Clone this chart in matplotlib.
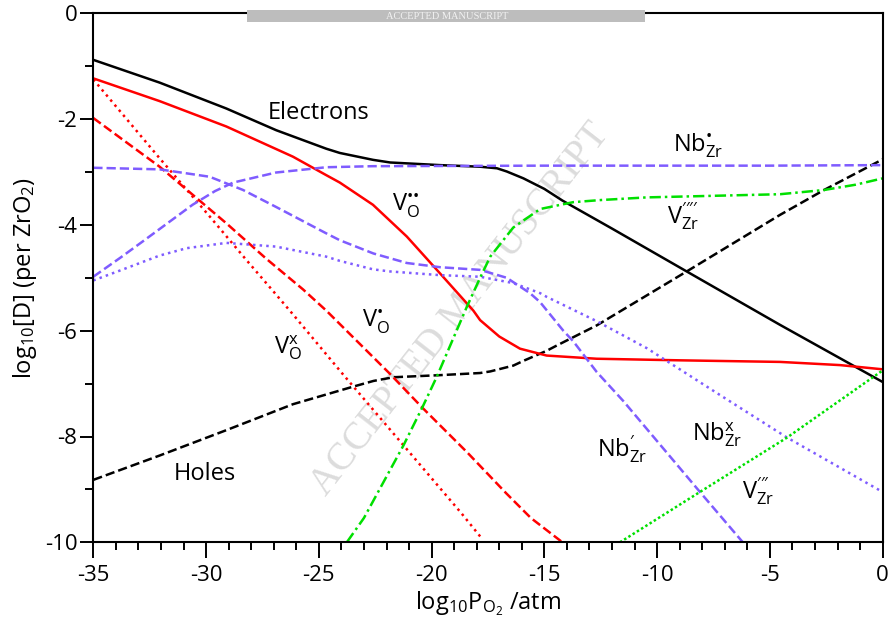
import matplotlib
matplotlib.use("Agg")
import matplotlib.pyplot as plt
from matplotlib.patches import Rectangle
from matplotlib.ticker import MultipleLocator

plt.rcParams['font.family'] = ['Open Sans', 'DejaVu Sans']
plt.rcParams['mathtext.fontset'] = 'custom'
plt.rcParams['mathtext.rm'] = 'Open Sans'
plt.rcParams['mathtext.it'] = 'Open Sans:italic'
plt.rcParams['mathtext.bf'] = 'Open Sans:bold'
plt.rcParams['axes.unicode_minus'] = False

# ---- data (log10 pO2, log10 concentration) ----
electrons_x = [-35, -32.06, -29.1, -26.89, -24.67, -24.07, -22.6, -21.84, -19.62, -17.85, -17.1, -16.67,
               -15.93, -15.0, -14.2, -12.0, -8.69, -4.55, 0]
electrons_y = [-0.88, -1.31, -1.80, -2.21, -2.56, -2.64, -2.77, -2.82, -2.87, -2.90, -2.93, -2.99,
               -3.12, -3.32, -3.54, -4.07, -4.88, -5.89, -6.97]

holes_x = [-35, -32.06, -29.1, -26.15, -23.5, -22.58, -21.7, -19.62, -17.85, -17.4, -16.38, -15.93,
           -14.9, -14.45, -12.68, -8.69, -4.55, -2.6, 0]
holes_y = [-8.82, -8.36, -7.88, -7.39, -7.06, -6.95, -6.88, -6.84, -6.80, -6.77, -6.66, -6.57,
           -6.38, -6.28, -5.90, -4.88, -3.81, -3.34, -2.76]

vo2_x = [-35, -32.06, -29.1, -26.15, -24.67, -24.07, -22.6, -21.1, -19.62, -18.15, -17.85, -17.0,
         -16.08, -14.9, -12.68, -9.0, -4.55, -1.9, 0]
vo2_y = [-1.23, -1.66, -2.14, -2.71, -3.06, -3.20, -3.62, -4.22, -4.92, -5.62, -5.80, -6.11,
         -6.34, -6.47, -6.53, -6.56, -6.59, -6.65, -6.73]

vo1_x = [-35, -32.06, -29.1, -27.33, -25.7, -24.67, -21.86, -20.4, -18.4, -16.7, -15.6, -14.2]
vo1_y = [-1.98, -2.90, -3.97, -4.64, -5.22, -5.62, -6.81, -7.46, -8.31, -9.07, -9.54, -10.0]

vo0_x = [-35, -32.06, -29.84, -28.2, -27.03, -26.15, -23.9, -21.7, -18.7, -17.75]
vo0_y = [-1.25, -2.74, -3.84, -4.67, -5.25, -5.69, -6.84, -7.94, -9.44, -9.94]

nb_plus_x = [-35, -33.8, -32.8, -30.6, -29.6, -28.8, -26.9, -24.67, -22.6, -15, -5, 0]
nb_plus_y = [-4.98, -4.62, -4.31, -3.62, -3.36, -3.20, -3.01, -2.91, -2.89, -2.88, -2.88, -2.87]

nb_minus_x = [-35, -32.06, -29.84, -28.36, -26.9, -24.67, -24.07, -22.58, -21.1, -19.62, -17.85,
              -16.67, -15.64, -15.19, -14.16, -13.72, -12.68, -11.5, -8.1, -6.2]
nb_minus_y = [-2.92, -2.95, -3.09, -3.34, -3.66, -4.16, -4.29, -4.54, -4.72, -4.80, -4.85,
              -5.00, -5.29, -5.46, -6.00, -6.20, -6.78, -7.33, -9.05, -10.0]

nb_neutral_x = [-35, -33.8, -32.06, -30.86, -29.1, -26.9, -24.67, -24.07, -22.6, -21.84, -19.62, -17.85,
                -16.38, -15.19, -14.9, -12.68, -10.46, -7.2, -4.24, 0]
nb_neutral_y = [-5.05, -4.86, -4.58, -4.44, -4.34, -4.41, -4.60, -4.68, -4.84, -4.88, -4.95, -4.98,
                -5.10, -5.29, -5.36, -5.82, -6.33, -7.22, -8.02, -9.05]

vzr4_x = [-23.76, -23.0, -21.25, -20.4, -19.77, -18.44, -17.85, -17.4, -16.38, -15.19, -13.72, -12.5,
          -10.46, -7.5, -4.55, -2.6, -1.2, 0]
vzr4_y = [-10.0, -9.54, -8.17, -7.44, -6.87, -5.55, -5.0, -4.6, -4.05, -3.70, -3.57, -3.53,
          -3.48, -3.45, -3.42, -3.34, -3.24, -3.12]

vzr3_x = [-11.65, -7.96, -4.24, 0]
vzr3_y = [-10.0, -9.01, -8.02, -6.75]

x_ticks = [-35, -30, -25, -20, -15, -10, -5, 0]
y_ticks = [-10, -8, -6, -4, -2, 0]

RED = '#ff0000'
PURPLE = '#7f5cff'
GREEN = '#00e000'
LW = 1.8

fig = plt.figure(figsize=(8.92, 6.27), dpi=100)
ax = fig.add_axes([93.3/892, 1-542.3/627, (882.7-93.3)/892, (542.3-13.3)/627])

ax.plot(electrons_x, electrons_y, color='black', lw=LW, ls='-')
ax.plot(holes_x, holes_y, color='black', lw=LW, ls=(0, (3.7, 1.6)))
ax.plot(vo2_x, vo2_y, color=RED, lw=LW, ls='-')
ax.plot(vo1_x, vo1_y, color=RED, lw=LW, ls=(0, (3.7, 1.6)))
ax.plot(vo0_x, vo0_y, color=RED, lw=LW, ls=(0, (1, 1.65)))
ax.plot(nb_plus_x, nb_plus_y, color=PURPLE, lw=LW, ls=(0, (3.7, 1.6)))
ax.plot(nb_minus_x, nb_minus_y, color=PURPLE, lw=LW, ls=(0, (3.7, 1.6)))
ax.plot(nb_neutral_x, nb_neutral_y, color=PURPLE, lw=LW, ls=(0, (1, 1.65)))
ax.plot(vzr4_x, vzr4_y, color=GREEN, lw=LW, ls=(0, (4.5, 1.6, 1, 1.6)))
ax.plot(vzr3_x, vzr3_y, color=GREEN, lw=LW, ls=(0, (1, 1.0)))

ax.set_xlim(-35, 0)
ax.set_ylim(-10, 0)
ax.set_xticks(x_ticks)
ax.set_yticks(y_ticks)
ax.xaxis.set_minor_locator(MultipleLocator(1))
ax.yaxis.set_minor_locator(MultipleLocator(1))
ax.tick_params(axis='x', which='major', direction='out', length=11.5, width=1.4, labelsize=16, pad=5)
ax.tick_params(axis='x', which='minor', direction='out', length=5.8, width=1.4)
ax.tick_params(axis='y', which='major', direction='out', length=9.5, width=1.4, labelsize=16, pad=2)
ax.tick_params(axis='y', which='minor', direction='out', length=5.8, width=1.4)
for s in ax.spines.values():
    s.set_linewidth(1.5)

ax.set_xlabel(r'log$_{10}$P$_{\mathrm{O_2}}$ /atm', fontsize=17, labelpad=2)
ax.set_ylabel(r'log$_{10}$[D] (per ZrO$_2$)', fontsize=17, labelpad=4)

lab = dict(fontsize=17, ha='left', va='baseline', color='black')
ax.text(-27.25, -2.0, 'Electrons', **lab)
ax.text(-31.45, -8.82, 'Holes', **lab)
ax.text(-21.75, -3.72, r'V$_{\mathrm{O}}^{\mathrm{••}}$', **lab)
ax.text(-23.1, -5.92, r'V$_{\mathrm{O}}^{\mathrm{•}}$', **lab)
ax.text(-27.0, -6.43, r'V$_{\mathrm{O}}^{\mathrm{x}}$', **lab)
ax.text(-9.28, -2.62, r'Nb$_{\mathrm{Zr}}^{\mathrm{•}}$', **lab)
ax.text(-9.57, -3.98, r'V$_{\mathrm{Zr}}^{\prime\prime\prime\prime}$', **lab)
ax.text(-12.68, -8.38, r'Nb$_{\mathrm{Zr}}^{\prime}$', **lab)
ax.text(-8.46, -8.07, r'Nb$_{\mathrm{Zr}}^{\mathrm{x}}$', **lab)
ax.text(-6.25, -9.17, r'V$_{\mathrm{Zr}}^{\prime\prime\prime}$', **lab)

# watermark
ax.text(460/892, 1-310/627, 'ACCEPTED MANUSCRIPT', transform=fig.transFigure,
        rotation=52, ha='center', va='center', fontsize=28,
        family=['Liberation Serif', 'DejaVu Serif'], color='#dcdcdc', zorder=0.5)
fig.add_artist(Rectangle((247/892, 1-22/627), (645-247)/892, 12/627,
                         transform=fig.transFigure, facecolor='#bdbdbd',
                         edgecolor='none', zorder=10))
fig.text(447/892, 1-16.5/627, 'ACCEPTED MANUSCRIPT', ha='center', va='center',
         fontsize=7.5, family=['Liberation Serif', 'DejaVu Serif'], color='#f2f2f2', zorder=11)

fig.savefig('out.png', dpi=100)
